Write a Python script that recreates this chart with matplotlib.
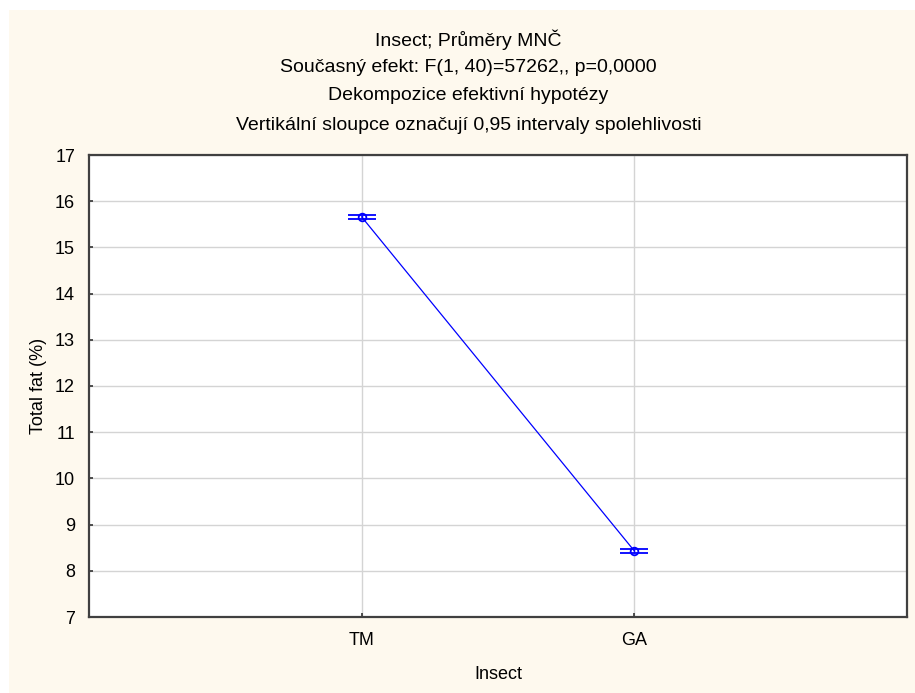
import numpy as np
import matplotlib
matplotlib.use("Agg")
import matplotlib.pyplot as plt
from matplotlib.patches import Rectangle

# data
insects = ["TM", "GA"]
fat_mean = [15.66, 8.43]
ci_half = [0.04, 0.04]

title_lines = [
    "Insect; Průměry MNČ",
    "Současný efekt: F(1, 40)=57262,, p=0,0000",
    "Dekompozice efektivní hypotézy",
    "Vertikální sloupce označují 0,95 intervaly spolehlivosti",
]

plt.rcParams["font.family"] = ["Liberation Sans", "DejaVu Sans"]

fig = plt.figure(figsize=(9.15, 6.93), dpi=100, facecolor="white")
# cream panel with a white strip on top and left
fig.patches.append(Rectangle((9 / 915, 0), 1 - 9 / 915, 1 - 10 / 693,
                             transform=fig.transFigure, facecolor="#fef9ee",
                             edgecolor="none", zorder=-10))

ax = fig.add_axes([89 / 915, 1 - 617 / 693, 818 / 915, 462 / 693])
ax.set_facecolor("white")

x = np.arange(len(insects))
ax.plot(x, fat_mean, color="#0000ff", lw=0.9, zorder=3)
ax.errorbar(x, fat_mean, yerr=ci_half, fmt="o", ms=5.5, mfc="none",
            mec="#0000ff", mew=1.3, ecolor="#0000ff", elinewidth=1,
            capsize=10, capthick=1.3, zorder=4)

ax.set_xlim(-1, 2)
ax.set_ylim(7, 17)
ax.set_xticks(x)
ax.set_xticklabels(insects)
ax.set_yticks(range(7, 18))
ax.grid(True, color="#d4d4d4", lw=1, zorder=0)
ax.set_axisbelow(True)
ax.tick_params(direction="in", length=3, width=1.2, color="#333333",
               labelsize=13, pad=10)
ax.tick_params(axis="x", pad=11)
for s in ax.spines.values():
    s.set_color("#404040")
    s.set_linewidth(1.6)

ax.set_xlabel("Insect", fontsize=13, labelpad=12)
ax.set_ylabel("Total fat (%)", fontsize=13, labelpad=6)

ys = [40, 67, 96, 125]
for t, yy in zip(title_lines, ys):
    fig.text(0.512, 1 - yy / 693, t, ha="center", va="center", fontsize=14)

fig.savefig("out.png", dpi=100, facecolor=fig.get_facecolor())
